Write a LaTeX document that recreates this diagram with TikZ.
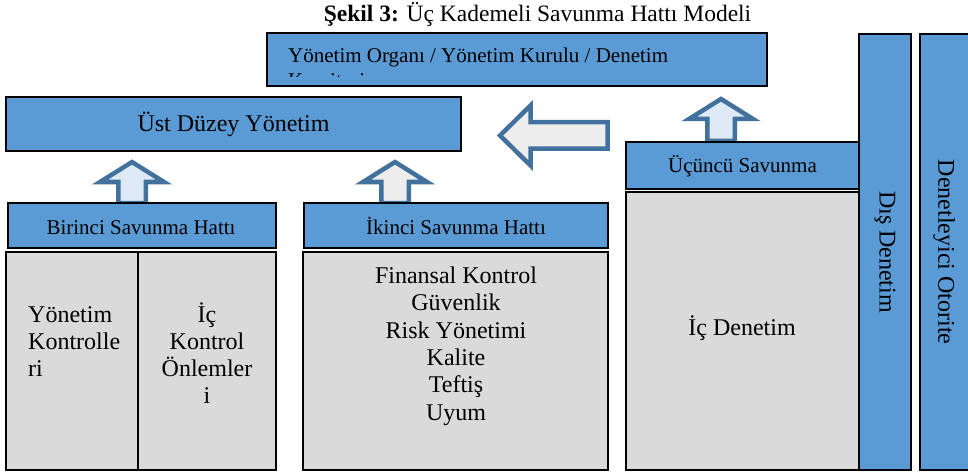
\documentclass[tikz,border=0pt]{standalone}
\usepackage{fontspec}
\setmainfont{Liberation Serif}
\definecolor{boxblue}{HTML}{5B9BD5}
\definecolor{boxgray}{HTML}{DADADA}
\definecolor{arrowline}{HTML}{41719C}
\definecolor{lightblue}{HTML}{DEEBF7}
\definecolor{lightgray}{HTML}{EDEDED}
\newcommand\myuparrow[7]{\draw[arrowshape,fill=#7] (#1,#2) -- (#1+#5,#3) -- (#1+#6,#3) -- (#1+#6,#4) -- (#1-#6,#4) -- (#1-#6,#3) -- (#1-#5,#3) -- cycle;}
\begin{document}
\begin{tikzpicture}[x=1pt,y=-1pt,
  bluebox/.style={draw=black, line width=1.8pt, fill=boxblue, inner sep=0pt},
  graybox/.style={draw=black, line width=1.8pt, fill=boxgray, inner sep=0pt},
  arrowshape/.style={draw=arrowline, line width=4.5pt, line join=miter},
  bodytxt/.style={font=\fontsize{24}{27}\selectfont, inner sep=0pt},
  headtxt/.style={font=\fontsize{21}{25}\selectfont, inner sep=0pt}]
\useasboundingbox (0,0) rectangle (968,473);
% title
\node[font=\fontsize{23.5}{27}\selectfont, inner sep=0pt, anchor=base] (title) at (537.5,22) {\textbf{Şekil 3:} Üç Kademeli Savunma Hattı Modeli};
% arrows
\myuparrow{132}{162}{182}{203}{32}{13.75}{lightblue}
\myuparrow{395}{162}{182}{203}{32}{13.75}{lightgray}
\myuparrow{721}{99}{119}{141}{32}{13.75}{lightblue}
\draw[arrowshape,fill=lightgray] (500,135.5) -- (530.5,105.5) -- (530.5,122.25) -- (607.5,122.25) -- (607.5,148.75) -- (530.5,148.75) -- (530.5,165.5) -- cycle;
% top box
\node[bluebox, minimum width=500pt, minimum height=53pt] (board) at (517,59.5) {};
\begin{scope}
\clip (268,34) rectangle (766,76.5);
\node[headtxt, anchor=base west] (boardl1) at (288,63) {Yönetim Organı / Yönetim Kurulu / Denetim};
\node[headtxt, anchor=base west] (boardl2) at (288,87.5) {Komitesi};
\end{scope}
% upper management
\node[bluebox, minimum width=455pt, minimum height=54pt] (ust) at (233.5,124) {};
\node[bodytxt, anchor=base] (usttxt) at (233.5,131.5) {Üst Düzey Yönetim};
% headers
\node[bluebox, minimum width=268pt, minimum height=45pt] (birinci) at (142,225.5) {};
\node[headtxt, anchor=base] at (141,234) {Birinci Savunma Hattı};
\node[bluebox, minimum width=304pt, minimum height=45pt] (ikinci) at (456,225.5) {};
\node[headtxt, anchor=base] at (456,234) {İkinci Savunma Hattı};
% gray boxes
\node[graybox, minimum width=270pt, minimum height=218pt] (g1) at (141,361) {};
\draw[line width=1.8pt] (138,252) -- (138,470);
\node[bodytxt, anchor=base west] (y1) at (28,322) {Yönetim};
\node[bodytxt, anchor=base west] (y2) at (28,349) {Kontrolle};
\node[bodytxt, anchor=base west] (y3) at (28,376) {ri};
\node[bodytxt, anchor=base] (i1) at (207,322) {İç};
\node[bodytxt, anchor=base] (i2) at (207,349) {Kontrol};
\node[bodytxt, anchor=base] (i3) at (207,376) {Önlemler};
\node[bodytxt, anchor=base] (i4) at (207,403) {i};
\node[graybox, minimum width=305pt, minimum height=218pt] (g2) at (455.5,361) {};
\node[bodytxt, anchor=base] (f1) at (456,283) {Finansal Kontrol};
\node[bodytxt, anchor=base] (f2) at (456,310.5) {Güvenlik};
\node[bodytxt, anchor=base] (f3) at (456,338) {Risk Yönetimi};
\node[bodytxt, anchor=base] (f4) at (456,365) {Kalite};
\node[bodytxt, anchor=base] (f5) at (456,392.5) {Teftiş};
\node[bodytxt, anchor=base] (f6) at (456,420) {Uyum};
% third line
\node[bluebox, minimum width=233pt, minimum height=47pt] (ucuncu) at (742.5,165.5) {};
\node[headtxt, anchor=base] at (742.5,172) {Üçüncü Savunma};
\node[graybox, minimum width=233pt, minimum height=278pt] (icden) at (742.5,331) {};
\node[bodytxt, anchor=base] at (742,335) {İç Denetim};
% vertical boxes
\node[bluebox, minimum width=52pt, minimum height=436pt] (dis) at (885,252) {};
\node[bodytxt, rotate=-90] at (885,252) {Dış Denetim};
\node[bluebox, minimum width=50pt, minimum height=436pt] (oto) at (945,252) {};
\node[bodytxt, rotate=-90] at (944,252) {Denetleyici Otorite};
\end{tikzpicture}
\end{document}
